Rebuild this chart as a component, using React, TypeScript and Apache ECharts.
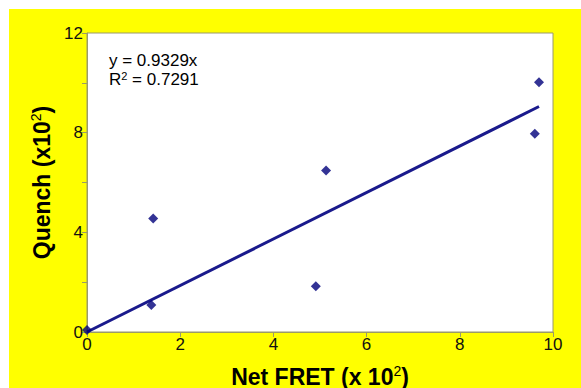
import React, { useEffect, useRef } from "react";
import * as echarts from "echarts";

const pointsX = [0.0, 1.38, 1.42, 4.91, 5.13, 9.61, 9.7];
const pointsY = [0.08, 1.08, 4.56, 1.84, 6.48, 7.96, 10.02];
const slope = 0.9329;
const r2 = 0.7291;
const trendRange = [0, 9.7];
const xTicks = [0, 2, 4, 6, 8, 10];
const yLabelTicks = [0, 4, 8, 12];

export default function App() {
  const ref = useRef<HTMLDivElement>(null);
  useEffect(() => {
    if (!ref.current) return;
    const chart = echarts.init(ref.current, null, { renderer: "svg" });
    const font = "Liberation Sans, Arial, sans-serif";
    const nameStyle = {
      fontFamily: font,
      fontSize: 23,
      fontWeight: "bold",
      color: "#000",
      rich: {
        sup: { fontSize: 14, fontWeight: "normal", verticalAlign: "top", padding: [0, 0, 11, 0], fontFamily: font, color: "#000" },
      },
    };
    chart.setOption({
      animation: false,
      backgroundColor: "#FFFF00",
      grid: {
        left: 78,
        top: 24,
        right: 28,
        bottom: 56,
        show: true,
        outerBoundsMode: "none",
        containLabel: false,
        backgroundColor: "#ffffff",
        borderColor: "#9a9a6a",
        borderWidth: 1,
      },
      xAxis: {
        type: "value",
        min: 0,
        max: 10,
        interval: 2,
        name: "Net FRET (x 10{sup|2})",
        nameLocation: "middle",
        nameGap: 32,
        nameTextStyle: nameStyle,
        axisLine: { lineStyle: { color: "#9a9a6a" } },
        axisTick: { show: true, length: 5, lineStyle: { color: "#9a9a6a" } },
        axisLabel: {
          fontFamily: font,
          fontSize: 17,
          color: "#111",
          margin: 4,
          formatter: (v: number) => (xTicks.includes(v) ? String(v) : ""),
        },
        splitLine: { show: false },
      },
      yAxis: {
        type: "value",
        min: 0,
        max: 12,
        interval: 2,
        name: "Quench (x10{sup|2})",
        nameLocation: "middle",
        nameGap: 28,
        nameTextStyle: nameStyle,
        axisLine: { show: true, lineStyle: { color: "#9a9a6a" } },
        axisTick: { show: true, length: 5, lineStyle: { color: "#9a9a6a" } },
        axisLabel: {
          fontFamily: font,
          fontSize: 17,
          color: "#111",
          margin: 4,
          formatter: (v: number) => (yLabelTicks.includes(v) ? String(v) : ""),
        },
        splitLine: { show: false },
      },
      series: [
        {
          type: "line",
          data: trendRange.map((x) => [x, slope * x]),
          symbol: "none",
          lineStyle: { color: "#1a1a8c", width: 3 },
          z: 2,
        },
        {
          type: "scatter",
          data: pointsX.map((x, i) => [x, pointsY[i]]),
          symbol: "diamond",
          symbolSize: 10,
          itemStyle: { color: "#00007a" },
          z: 3,
        },
      ],
      graphic: [
        {
          type: "text",
          left: 100,
          top: 43,
          style: {
            text: `y = ${slope}x`,
            fontFamily: font,
            fontSize: 17,
            fill: "#000",
          },
        },
        {
          type: "text",
          left: 100,
          top: 61,
          style: {
            text: `R{sup|2} = ${r2}`,
            fontFamily: font,
            fontSize: 17,
            fill: "#000",
            rich: {
              sup: { fontSize: 11, verticalAlign: "top", padding: [0, 0, 8, 0], fontFamily: font, fill: "#000" },
            },
          },
        },
      ],
    });
    return () => chart.dispose();
  }, []);
  return (
    <div
      ref={ref}
      style={{ position: "absolute", left: 9, top: 9, width: 572, height: 379 }}
    />
  );
}
